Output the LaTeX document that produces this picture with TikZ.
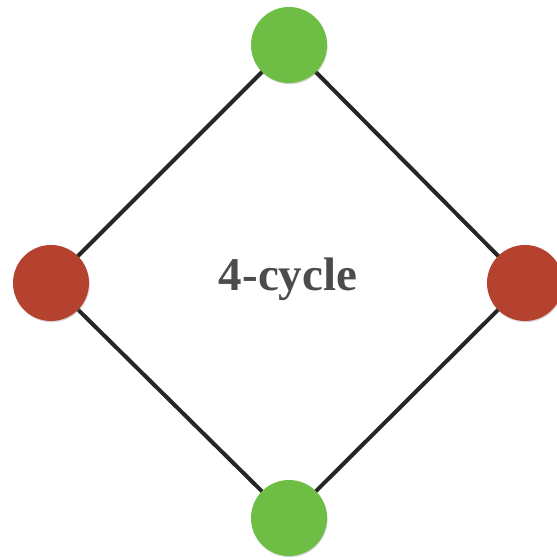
\documentclass[tikz,border=0pt]{standalone}
\usepackage{fontspec}
\setmainfont{Liberation Serif}
\usetikzlibrary{shadows,backgrounds}
\definecolor{vred}{RGB}{181,66,46}
\definecolor{vgreen}{RGB}{110,190,70}
\tikzset{vtx/.style={circle, minimum size=76pt, inner sep=0pt, drop shadow={opacity=.35, shadow xshift=.6pt, shadow yshift=-1.2pt}},
	edge/.style={line width=4pt, draw=black!85}}

\begin{document}
\begin{tikzpicture}[x=1pt,y=1pt]
			\useasboundingbox (0,0) rectangle (557,560);
			\node[vtx, fill=vgreen] (top) at (289,515) {};
			\node[vtx, fill=vred] (left) at (51,277) {};
			\node[vtx, fill=vred] (right) at (525,277) {};
			\node[vtx, fill=vgreen] (bot) at (289,42) {};
			\begin{scope}[on background layer]
			\draw[edge] (top.center) -- (right.center) -- (bot.center) -- (left.center) -- cycle;
			\end{scope}
			\node[font=\fontsize{47}{50}\selectfont\bfseries, text=black!70] (lbl) at (288,281) {4-cycle};
			\end{tikzpicture}
\end{document}
